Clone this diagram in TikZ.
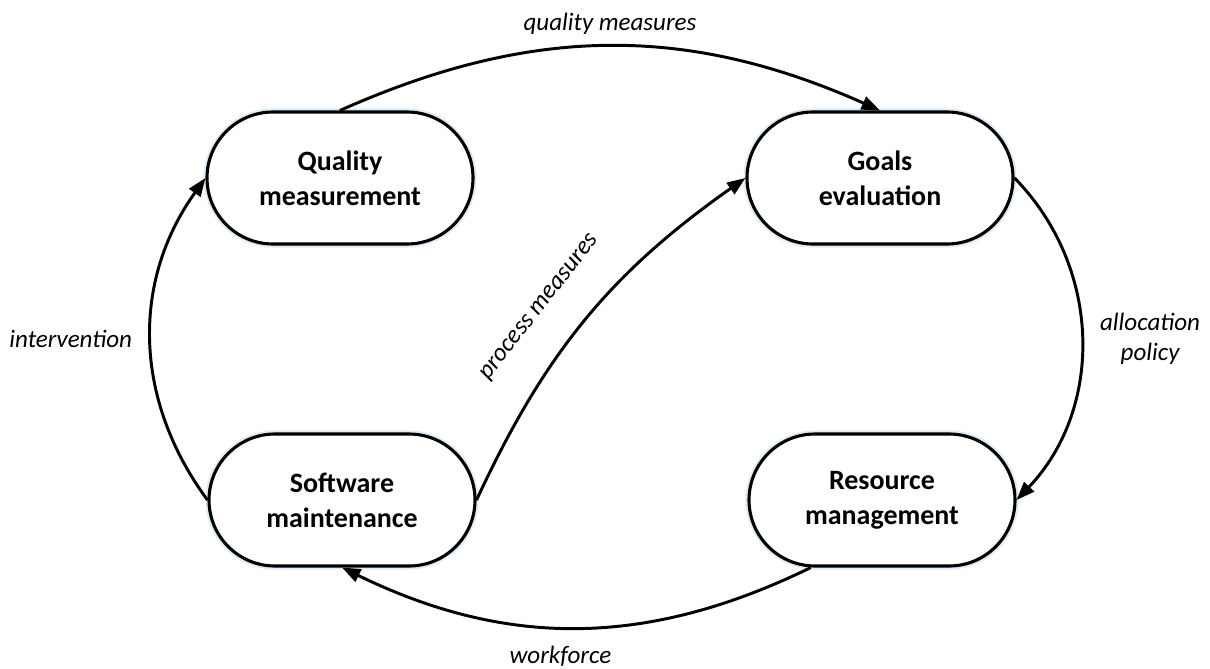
\documentclass[tikz,border=0pt]{standalone}
\usepackage{fontspec}
\setmainfont{Carlito}
\usepackage{tikz}
\usetikzlibrary{arrows.meta,positioning,shapes.misc}
\definecolor{halo}{HTML}{DCEBF7}
\newcommand{\boxfont}{\fontsize{19.9}{24.9}\selectfont\bfseries}
\newcommand{\lblfont}{\fontsize{17.8}{21.5}\selectfont\itshape}
\tikzset{
  >={Triangle[length=4.6mm,width=3.4mm]},
  % steg i kretsen
  stage/.style={rounded rectangle,draw=black,fill=white,line width=2.2pt,
                minimum width=6.65cm,minimum height=3.3cm,inner sep=0pt,
                align=center,font=\boxfont,
                preaction={draw=halo,line width=5pt}},
  flow/.style={->,draw=black,line width=2.1pt},
  lbl/.style={font=\lblfont,inner sep=1pt,align=center},
}
\begin{document}
\begin{tikzpicture}
  \useasboundingbox (0,0) rectangle (30.25,16.7);
  \node[stage] (qm) at (8.5,12.25)  {Quality\\measurement};
  \node[stage] (ge) at (22.0,12.25) {Goals\\evaluation};
  \node[stage] (sm) at (8.55,4.2)   {Software\\maintenance};
  \node[stage] (rm) at (22.05,4.2)  {Resource\\management};
  \draw[flow] (qm.north) to[bend left=24]
    node[lbl,above=0.22cm]{quality measures} (ge.north);
  \draw[flow] (ge.east) to[bend left=44]
    node[lbl,right=0.4cm]{allocation\\policy} (rm.east);
  \draw[flow] ([xshift=-1.78cm]rm.south) to[bend left=26]
    node[lbl,below=0.4cm,xshift=-0.4cm]{workforce} (sm.south);
  \draw[flow] (sm.west) to[bend left=36]
    node[lbl,left=0.4cm]{intervention} (qm.west);
  \draw[flow] (sm.east) to[bend left=15]
    node[lbl,sloped,above=0.8cm,pos=0.45]{process measures} (ge.west);
\end{tikzpicture}
\end{document}
